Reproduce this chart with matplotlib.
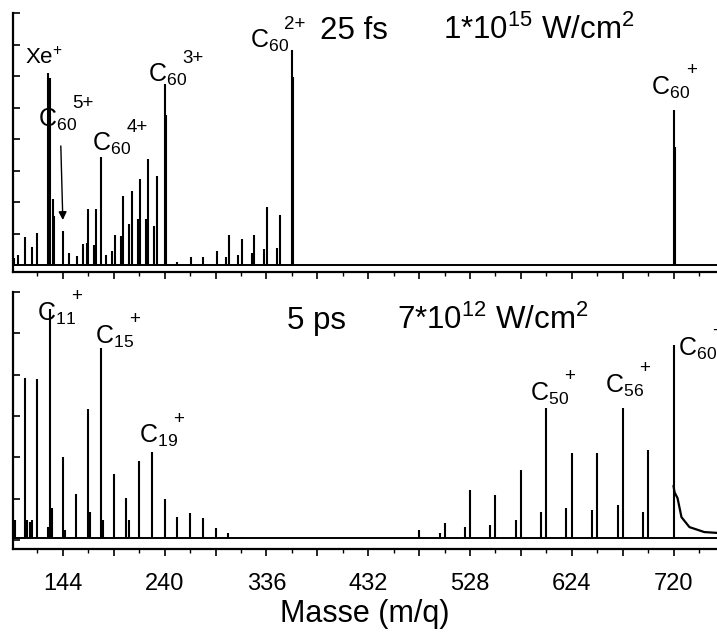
# Time-of-flight mass spectra of C60: 25 fs vs 5 ps pulses
import matplotlib
matplotlib.use('Agg')
import matplotlib.pyplot as plt
from matplotlib.ticker import MultipleLocator, FuncFormatter

plt.rcParams['font.family'] = ['Liberation Sans', 'DejaVu Sans']
plt.rcParams['mathtext.default'] = 'regular'
narrow = ['Liberation Sans Narrow', 'Liberation Sans', 'DejaVu Sans']

# 25 fs, 1*10^15 W/cm2 : peak positions (m/q) and heights (arb. units)
fs_mass = [98, 102, 108, 115, 120, 130, 131.7, 134.6, 135.5, 144, 149.7, 157, 163, 166.6,
           168, 173, 175, 180, 184.5, 190, 193, 198.7, 200.6, 206, 209, 214.7, 216.6,
           222.2, 224, 229.8, 232.6, 240, 241, 252, 264.7, 276, 289, 297.7, 300.5, 309,
           312.7, 322, 324, 333.5, 336.3, 345.7, 348.6, 360, 360.8, 720, 721]
fs_int = [0.22, 0.32, 0.89, 0.57, 1.02, 6.10, 5.94, 2.10, 1.56, 1.08, 0.38, 0.29, 0.67, 0.70,
          1.78, 0.63, 1.78, 3.43, 0.32, 0.44, 0.95, 0.92, 2.19, 1.30, 2.35, 1.46, 2.73,
          1.46, 3.37, 1.24, 2.83, 5.75, 4.76, 0.10, 0.25, 0.25, 0.44, 0.25, 0.95, 0.32,
          0.83, 0.38, 0.95, 0.51, 1.84, 0.54, 1.59, 6.83, 5.97, 4.92, 3.75]

# 5 ps, 7*10^12 W/cm2
ps_mass = [99, 108, 110, 113, 115, 120, 130, 132, 134, 144, 146, 156, 168, 169.5, 180,
           181.5, 192, 204, 206, 216, 228, 240, 252, 264, 276, 288, 300, 312,
           480, 499.4, 504, 523, 528, 546.5, 552, 571, 576, 594.6, 600, 619, 624,
           642.7, 648, 667.2, 672, 690.8, 696, 720]
ps_int = [0.48, 3.93, 0.48, 0.43, 0.48, 3.90, 0.31, 5.59, 0.77, 2.00, 0.24, 1.11, 3.16, 0.67, 4.65,
          0.48, 1.59, 1.01, 0.48, 1.90, 2.12, 0.99, 0.55, 0.65, 0.53, 0.29, 0.17, 0.07,
          0.24, 0.17, 0.41, 0.31, 1.20, 0.36, 1.08, 0.48, 1.69, 0.67, 3.20, 0.77, 2.10,
          0.72, 2.10, 0.84, 3.20, 0.67, 2.17, 4.72]
tail_mass = [720, 721, 723.8, 727.5, 735, 749, 761]
tail_int = [1.3, 1.15, 1.01, 0.55, 0.31, 0.19, 0.17]

fig = plt.figure(figsize=(7.17, 6.39), dpi=100)
ax1 = fig.add_axes([13 / 717, 1 - 272 / 639, 1 - 13 / 717, 259 / 639])
ax2 = fig.add_axes([13 / 717, 1 - 549 / 639, 1 - 13 / 717, 257 / 639])

ax1.vlines(fs_mass, 0, fs_int, color='k', lw=1.5)
ax1.axhline(0, color='k', lw=1.4)
ax2.vlines(ps_mass, 0.05, ps_int, color='k', lw=1.5)
ax2.axhline(0.05, color='k', lw=1.4)
ax2.plot(tail_mass, tail_int, color='k', lw=1.6)


def every_other(v, pos):
    return '%d' % v if v % 96 == 48 else ''


for ax, top in ((ax1, 8), (ax2, 6)):
    ax.set_xlim(97, 761)
    ax.set_ylim(-0.22, top)
    ax.spines['top'].set_visible(False)
    ax.spines['right'].set_visible(False)
    for s in ('left', 'bottom'):
        ax.spines[s].set_linewidth(1.6)
    ax.xaxis.set_major_locator(MultipleLocator(48))
    ax.xaxis.set_minor_locator(MultipleLocator(24))
    ax.yaxis.set_major_locator(MultipleLocator(1))
    ax.tick_params(axis='x', which='major', direction='out', length=5, width=1.2, labelsize=17, pad=12)
    ax.tick_params(axis='x', which='minor', direction='out', length=3, width=1.0)
    ax.tick_params(axis='y', which='major', direction='in', length=5, width=1.2, labelleft=False)

ax1.tick_params(axis='x', labelbottom=False)
ax2.xaxis.set_major_formatter(FuncFormatter(every_other))
for t in ax2.get_xticklabels():
    t.set_family(narrow)
ax2.set_xlabel('Masse (m/q)', fontsize=22, labelpad=3)


def clab(ax, x, y, n, q):
    ax.text(x, y, 'C$_{%s}$' % n, fontsize=18)
    ax.annotate(q, (x, y), xytext=(25, 14), textcoords='offset points', fontsize=13.5)


# top panel labels
ax1.text(108.2, 6.38, 'Xe$^{+}$', fontsize=16)
clab(ax1, 120.4, 4.38, '60', '5+')
clab(ax1, 171.3, 3.62, '60', '4+')
clab(ax1, 224.1, 5.81, '60', '3+')
clab(ax1, 320.3, 6.89, '60', '2+')
clab(ax1, 699.2, 5.40, '60', '+')
ax1.text(386.3, 7.17, '25 fs', fontsize=22.5)
ax1.text(502.2, 7.17, '1*10$^{15}$ W/cm$^{2}$', fontsize=22.5)
ax1.annotate('', xy=(144, 1.43), xytext=(142.1, 3.78),
             arrowprops=dict(arrowstyle='-|>', color='k', lw=1, mutation_scale=12,
                             shrinkA=0, shrinkB=0))

# bottom panel labels
clab(ax2, 119.5, 5.30, '11', '+')
clab(ax2, 174.2, 4.75, '15', '+')
clab(ax2, 215.6, 2.34, '19', '+')
clab(ax2, 584.2, 3.37, '50', '+')
clab(ax2, 654.9, 3.57, '56', '+')
clab(ax2, 723.8, 4.46, '60', '+')
ax2.text(355.2, 5.11, '5 ps', fontsize=22.5)
ax2.text(458.9, 5.11, '7*10$^{12}$ W/cm$^{2}$', fontsize=22.5)

fig.savefig('out.png', dpi=100)
